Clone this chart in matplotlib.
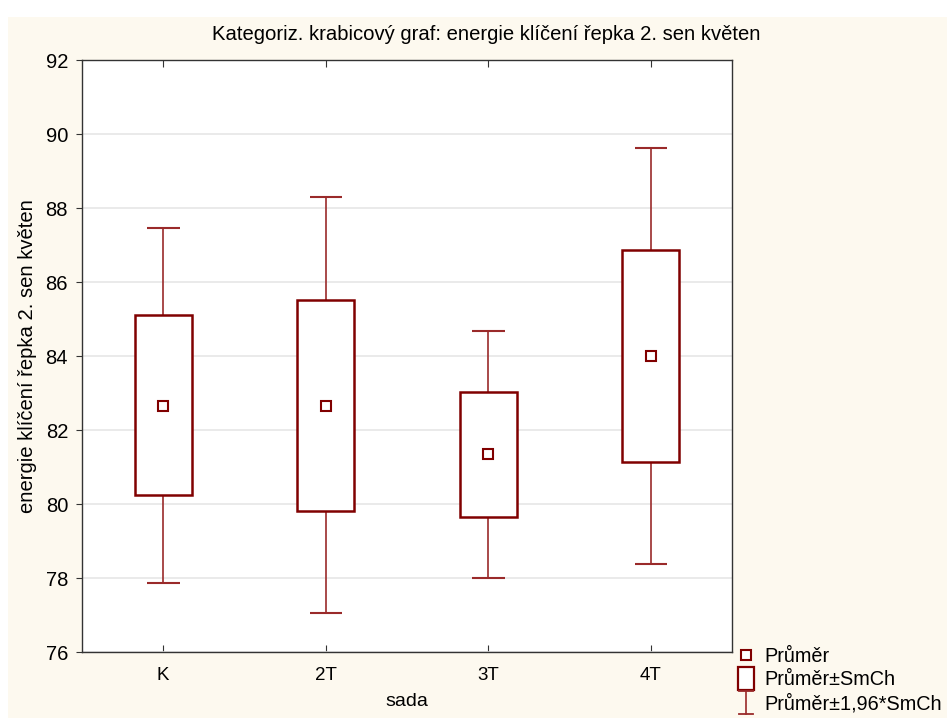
import matplotlib
matplotlib.use("Agg")
import matplotlib.pyplot as plt
from matplotlib.patches import Rectangle
from matplotlib.lines import Line2D
from matplotlib.legend_handler import HandlerBase

# Data: mean, mean±SE box and mean±1.96*SE whiskers per group
categories = ["K", "2T", "3T", "4T"]
means = [82.66, 82.66, 81.34, 84.01]
box_low = [80.23, 79.82, 79.66, 81.14]
box_high = [85.10, 85.51, 83.03, 86.86]
whisk_low = [77.86, 77.05, 78.01, 78.39]
whisk_high = [87.47, 88.30, 84.68, 89.62]
yticks = [76, 78, 80, 82, 84, 86, 88, 90, 92]

DARK = "#800000"
WHISK = "#9a2a2a"
CREAM = "#fdf9ef"

plt.rcParams["font.family"] = ["Liberation Sans", "DejaVu Sans"]

W, H = 947, 718
fig = plt.figure(figsize=(W / 100, H / 100), dpi=100, facecolor="white")
fig.patches.append(Rectangle((8 / W, 0), 1 - 8 / W, 1 - 17 / H,
                             transform=fig.transFigure, facecolor=CREAM,
                             edgecolor="none", zorder=-10))

ax = fig.add_axes([82 / W, 1 - 652 / H, 650 / W, 592 / H])
ax.set_facecolor("white")

box_w = 0.35
cap_w = 0.20
for i, cat in enumerate(categories):
    x = i + 1
    # whiskers
    ax.vlines(x, whisk_low[i], box_low[i], color=WHISK, lw=1.2, zorder=2)
    ax.vlines(x, box_high[i], whisk_high[i], color=WHISK, lw=1.2, zorder=2)
    ax.hlines([whisk_low[i], whisk_high[i]], x - cap_w / 2, x + cap_w / 2,
              color=WHISK, lw=1.5, zorder=2)
    # box
    ax.add_patch(Rectangle((x - box_w / 2, box_low[i]), box_w,
                           box_high[i] - box_low[i], facecolor="white",
                           edgecolor=DARK, lw=1.8, zorder=3))
    # mean
    ax.plot(x, means[i], marker="s", ms=7, mfc="white", mec=DARK, mew=1.5,
            zorder=4)

ax.set_xlim(0.5, 4.5)
ax.set_ylim(76, 92)
ax.set_yticks(yticks)
ax.set_xticks(range(1, len(categories) + 1))
ax.set_xticklabels(categories)
ax.yaxis.grid(True, color="#e6e6e6", lw=1.2)
ax.set_axisbelow(True)
ax.tick_params(axis="y", direction="out", length=4, labelsize=14.5,
               color="#333333", pad=6)
ax.tick_params(axis="x", direction="in", length=5, top=True, labelsize=13.5,
               color="#333333", pad=11)
for s in ax.spines.values():
    s.set_color("#333333")
    s.set_linewidth(1.0)

fig.text(486 / W, 1 - 35 / H,
         "Kategoriz. krabicový graf: energie klíčení řepka 2. sen květen",
         fontsize=14.6, ha="center", va="center")
ax.set_ylabel("energie klíčení řepka 2. sen květen", fontsize=14.6, labelpad=6)
ax.set_xlabel("sada", fontsize=14, labelpad=6)


class BoxHandler(HandlerBase):
    def create_artists(self, legend, orig_handle, xdescent, ydescent, width,
                       height, fontsize, trans):
        w, h = 12, 16
        cx = width / 2 - xdescent
        r = Rectangle((cx - w / 2, height / 2 - h / 2 - ydescent), w, h,
                      facecolor="white", edgecolor=DARK, lw=1.6,
                      transform=trans)
        return [r]


class IBarHandler(HandlerBase):
    def create_artists(self, legend, orig_handle, xdescent, ydescent, width,
                       height, fontsize, trans):
        cx = width / 2 - xdescent
        h = 17
        y0 = height / 2 - h / 2 - ydescent
        a = Line2D([cx, cx], [y0, y0 + h], color=WHISK, lw=1.2,
                   transform=trans)
        b = Line2D([cx - 5, cx + 5], [y0, y0], color=WHISK, lw=1.3,
                   transform=trans)
        c = Line2D([cx - 5, cx + 5], [y0 + h, y0 + h], color=WHISK, lw=1.3,
                   transform=trans)
        return [a, b, c]


class MeanHandler(HandlerBase):
    def create_artists(self, legend, orig_handle, xdescent, ydescent, width,
                       height, fontsize, trans):
        cx = width / 2 - xdescent
        m = Line2D([cx], [height / 2 - ydescent], marker="s", ms=7,
                   mfc="white", mec=DARK, mew=1.5, linestyle="none",
                   transform=trans)
        return [m]


h_mean, h_box, h_bar = object(), object(), object()
leg = ax.legend([h_mean, h_box, h_bar],
                ["Průměr", "Průměr±SmCh", "Průměr±1,96*SmCh"],
                handler_map={h_mean: MeanHandler(), h_box: BoxHandler(),
                             h_bar: IBarHandler()},
                loc="upper left", bbox_to_anchor=(736 / W, 1 - 647 / H),
                bbox_transform=fig.transFigure, frameon=False,
                fontsize=14.3, handlelength=1.0, handletextpad=0.45,
                labelspacing=0.22, borderpad=0, borderaxespad=0)

fig.savefig("out.png", dpi=100, facecolor=fig.get_facecolor())
